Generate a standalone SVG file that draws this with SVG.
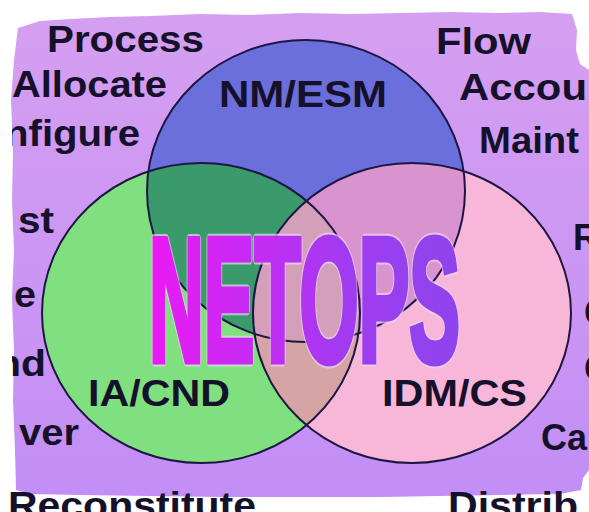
<svg xmlns="http://www.w3.org/2000/svg" width="589" height="512" viewBox="0 0 589 512">
  <defs>
    <linearGradient id="paper" x1="0" y1="0" x2="0" y2="1">
      <stop offset="0" stop-color="#d59ff1"/>
      <stop offset="1" stop-color="#c38ef5"/>
    </linearGradient>
    <linearGradient id="titleFill" x1="0" y1="0" x2="1" y2="0">
      <stop offset="0" stop-color="#ea1af3"/>
      <stop offset="0.35" stop-color="#c42cf4"/>
      <stop offset="0.65" stop-color="#9f3cf1"/>
      <stop offset="1" stop-color="#8e44ec"/>
    </linearGradient>
    <clipPath id="clipB"><ellipse cx="306" cy="191" rx="159" ry="151"/></clipPath>
    <clipPath id="clipG"><ellipse cx="201" cy="313" rx="159" ry="150"/></clipPath>
    <clipPath id="clipLeft"><rect x="12" y="0" width="577" height="512"/></clipPath>
    <style>
      .lbl { font-family: "Liberation Sans", Arial, sans-serif; font-weight: bold; font-size: 36px; fill: #16112b; }
      .ring { fill: none; stroke: #1d1642; stroke-width: 2; }
      .title { font-family: "Liberation Sans Narrow", "Liberation Sans", Arial, sans-serif; font-weight: bold; font-size: 176px; }
    </style>
  </defs>

  <!-- torn paper sheet -->
  <g id="sheet">
    <rect x="0" y="0" width="589" height="512" fill="#ffffff"/>
    <path fill="url(#paper)" d="M18,28 L40,21 L70,19 L110,17 L150,16 L200,14 L250,15 L300,13 L350,14 L400,13 L450,12 L500,13 L540,12 L572,14 L577,30 L576,50 L580,64 L589,70 L589,470 L583,478 L581,490 L560,494 L500,495 L440,496 L380,497 L300,497 L220,497 L150,496 L80,495 L30,494 L16,490 L15,450 L13,400 L14,350 L12,300 L14,250 L12,200 L13,150 L11,100 L14,60 Z"/>
  </g>

  <!-- surrounding words -->
  <g id="side-labels">
    <text class="lbl" x="47" y="52" textLength="157" lengthAdjust="spacingAndGlyphs">Process</text>
    <text class="lbl" x="12" y="97" textLength="155" lengthAdjust="spacingAndGlyphs">Allocate</text>
    <g clip-path="url(#clipLeft)">
      <text class="lbl" x="4" y="146" textLength="136" lengthAdjust="spacingAndGlyphs">nfigure</text>
      <text class="lbl" x="-4" y="376" textLength="50" lengthAdjust="spacingAndGlyphs">nd</text>
    </g>
    <text class="lbl" x="18" y="233" textLength="36" lengthAdjust="spacingAndGlyphs">st</text>
    <text class="lbl" x="14" y="307" textLength="22" lengthAdjust="spacingAndGlyphs">e</text>
    <text class="lbl" x="19" y="445" textLength="60" lengthAdjust="spacingAndGlyphs">ver</text>
    <text class="lbl" x="436" y="54" textLength="95" lengthAdjust="spacingAndGlyphs">Flow</text>
    <text class="lbl" x="459" y="100" textLength="128" lengthAdjust="spacingAndGlyphs">Accou</text>
    <text class="lbl" x="479" y="153" textLength="100" lengthAdjust="spacingAndGlyphs">Maint</text>
    <text class="lbl" x="573" y="250">R</text>
    <text class="lbl" x="584" y="325">C</text>
    <text class="lbl" x="584" y="381">C</text>
    <text class="lbl" x="541" y="450">Ca</text>
    <text class="lbl" x="8" y="518" textLength="248" lengthAdjust="spacingAndGlyphs">Reconstitute</text>
    <text class="lbl" x="448" y="518" textLength="130" lengthAdjust="spacingAndGlyphs">Distrib</text>
  </g>

  <g id="nm-esm">
    <ellipse cx="306" cy="191" rx="159" ry="151" fill="#6b6fdb"/>
  </g>
  <g id="ia-cnd">
    <ellipse cx="201" cy="313" rx="159" ry="150" fill="#80e07f"/>
  </g>
  <g id="idm-cs">
    <ellipse cx="412" cy="313" rx="159" ry="150" fill="#f8b6d8"/>
  </g>

  <!-- overlap regions -->
  <g id="overlaps">
    <ellipse cx="201" cy="313" rx="159" ry="150" fill="#3a9a6c" clip-path="url(#clipB)"/>
    <ellipse cx="412" cy="313" rx="159" ry="150" fill="#d993cf" clip-path="url(#clipB)"/>
    <ellipse cx="412" cy="313" rx="159" ry="150" fill="#d6a4a4" clip-path="url(#clipG)"/>
    <g clip-path="url(#clipB)">
      <ellipse cx="412" cy="313" rx="159" ry="150" fill="#d49fb8" clip-path="url(#clipG)"/>
    </g>
  </g>

  <!-- circle outlines -->
  <g id="outlines">
    <ellipse class="ring" cx="306" cy="191" rx="159" ry="151"/>
    <ellipse class="ring" cx="201" cy="313" rx="159" ry="150"/>
    <ellipse class="ring" cx="412" cy="313" rx="159" ry="150"/>
  </g>

  <g id="circle-labels">
    <text class="lbl" x="219" y="107" textLength="168" lengthAdjust="spacingAndGlyphs">NM/ESM</text>
    <text class="lbl" x="88" y="406" textLength="142" lengthAdjust="spacingAndGlyphs">IA/CND</text>
    <text class="lbl" x="382" y="406" textLength="145" lengthAdjust="spacingAndGlyphs">IDM/CS</text>
  </g>

  <!-- title -->
  <g id="title">
    <text class="title" x="149" y="361" textLength="311" lengthAdjust="spacingAndGlyphs" fill="none" stroke="#ecd6f4" stroke-width="11" stroke-linejoin="round" opacity="0.7">NETOPS</text>
    <text class="title" x="149" y="361" textLength="311" lengthAdjust="spacingAndGlyphs" fill="url(#titleFill)" stroke="url(#titleFill)" stroke-width="7" stroke-linejoin="miter">NETOPS</text>
  </g>
</svg>
